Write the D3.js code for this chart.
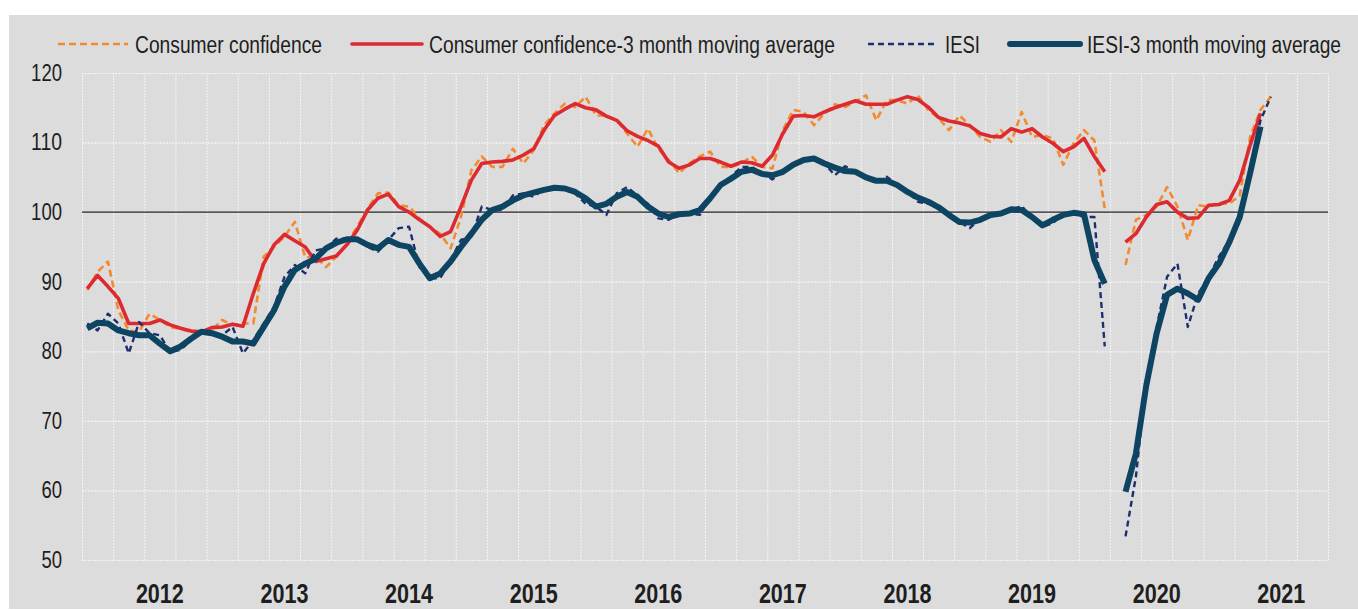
<!DOCTYPE html>
<html>
<head>
<meta charset="utf-8">
<script src="https://cdn.jsdelivr.net/npm/d3@7"></script>
<style>
  body { margin: 0; background: #fff; }
  text { font-family: "Liberation Sans Narrow", "Arial Narrow", "Liberation Sans", sans-serif; fill: #1e1e1e; }
</style>
</head>
<body>
<div id="chart"></div>
<script>
// Monthly data, Jan 2012 .. Jul 2021 (April 2020 missing)
const startMonth = "2012-01";
const years = ["2012", "2013", "2014", "2015", "2016", "2017", "2018", "2019", "2020", "2021"];
const yTicks = [50, 60, 70, 80, 90, 100, 110, 120];

const consumer = [
  88.8, 91.4, 92.9, 85.9, 83.0, 82.8, 85.4, 84.5, 83.5, 83.2, 82.8, 82.6,
  83.0, 84.5, 83.8, 84.0, 84.0, 93.6, 95.0, 96.5, 98.6, 93.5, 93.6, 92.1,
  93.6, 95.5, 97.9, 100.5, 102.7, 102.8, 101.0, 100.8, 99.1, 97.9, 96.9, 94.8,
  99.3, 106.0, 108.0, 106.5, 106.5, 109.1, 107.0, 108.9, 112.5, 114.2, 115.6, 115.1,
  116.6, 113.9, 113.9, 113.2, 111.3, 109.4, 112.0, 109.1, 107.5, 105.6, 107.0, 108.0,
  108.7, 106.5, 106.5, 107.0, 108.0, 106.5, 106.3, 111.8, 114.7, 114.4, 112.5, 114.2,
  115.5, 115.1, 115.9, 116.8, 113.2, 116.1, 116.1, 115.6, 116.8, 114.7, 113.5, 111.8,
  113.9, 112.5, 110.8, 110.1, 111.8, 110.1, 114.4, 110.8, 111.1, 110.6, 106.8, 109.9,
  111.8, 110.3, 100.5, null, 92.4, 98.9, 99.6, 100.8, 103.6, 100.8, 96.0, 101.0,
  100.8, 101.3, 101.2, 102.4, 110.8, 114.7, 116.6
];
const consumerMA = [
  89.0, 90.9, 89.3, 87.6, 84.0, 84.0, 84.0, 84.5, 83.8, 83.3, 82.9, 82.8,
  83.4, 83.5, 83.9, 83.6, 88.3, 92.6, 95.3, 96.8, 95.9, 95.0, 92.9, 93.3,
  93.7, 95.3, 97.4, 100.3, 102.0, 102.6, 100.8, 100.0, 98.9, 97.9, 96.5, 97.2,
  100.8, 104.6, 107.0, 107.2, 107.3, 107.5, 108.2, 109.1, 111.8, 113.9, 114.8, 115.6,
  115.0, 114.7, 113.8, 113.2, 111.7, 110.9, 110.3, 109.5, 107.2, 106.3, 106.8, 107.7,
  107.7, 107.2, 106.6, 107.2, 107.1, 106.6, 108.2, 111.3, 113.8, 113.9, 113.7, 114.4,
  115.0, 115.5, 116.0, 115.5, 115.5, 115.5, 116.1, 116.6, 116.2, 115.1, 113.6, 113.1,
  112.8, 112.4, 111.3, 110.9, 110.8, 112.0, 111.5, 112.0, 110.8, 109.9, 108.7, 109.4,
  110.6, 108.0, 105.8, null, 95.7, 96.9, 99.3, 101.1, 101.5, 100.0, 99.1, 99.2,
  101.0, 101.1, 101.7, 104.6, 109.6, 114.2
];
const iesi = [
  84.0, 83.0, 85.4, 84.0, 79.7, 84.2, 82.6, 82.3, 79.9, 80.2, 81.6, 82.8,
  82.8, 82.3, 83.5, 79.7, 81.6, 84.0, 86.4, 90.7, 92.4, 91.2, 94.5, 94.8,
  96.2, 96.2, 96.2, 95.0, 94.3, 96.0, 97.7, 97.9, 92.1, 90.5, 90.5, 93.1,
  96.0, 96.5, 100.8, 100.3, 100.3, 102.4, 102.7, 102.2, 103.4, 103.4, 103.2, 102.7,
  101.2, 100.8, 99.6, 102.7, 103.6, 102.4, 101.2, 99.1, 98.9, 99.8, 99.8, 99.6,
  102.2, 104.1, 105.1, 106.5, 106.5, 105.6, 104.7, 106.0, 107.0, 107.6, 107.9, 107.0,
  105.3, 106.6, 105.8, 104.8, 104.2, 105.1, 103.9, 102.9, 101.5, 101.2, 100.8, 99.3,
  98.6, 97.7, 99.1, 99.7, 100.0, 100.3, 100.9, 99.1, 97.9, 98.4, 99.8, 99.8,
  99.3, 99.3, 80.7, null, 53.4, 62.0, 75.9, 83.5, 90.7, 92.6, 83.5, 88.3,
  90.7, 93.6, 96.0, 99.1, 106.5, 113.2, 116.6
];
const iesiMA = [
  83.3, 84.1, 84.0, 83.0, 82.6, 82.3, 82.3, 81.1, 80.0, 80.7, 81.8, 82.8,
  82.6, 82.1, 81.4, 81.4, 81.1, 83.5, 85.9, 89.3, 91.7, 92.6, 93.3, 94.8,
  95.6, 96.1, 96.1, 95.3, 94.8, 96.0, 95.3, 95.0, 92.6, 90.5, 91.2, 92.9,
  95.0, 96.9, 98.9, 100.3, 100.8, 101.7, 102.4, 102.8, 103.2, 103.5, 103.4, 102.9,
  102.0, 100.8, 101.2, 102.2, 102.9, 102.2, 100.8, 99.8, 99.3, 99.7, 99.8, 100.3,
  102.0, 103.9, 104.8, 105.8, 106.1, 105.5, 105.3, 105.8, 106.8, 107.5, 107.7, 107.0,
  106.4, 105.9, 105.8, 105.0, 104.5, 104.5, 103.9, 102.9, 102.1, 101.5, 100.7, 99.6,
  98.6, 98.5, 98.9, 99.6, 99.8, 100.4, 100.3, 99.3, 98.1, 98.9, 99.6, 99.9,
  99.7, 93.1, 89.7, null, 59.8, 65.3, 75.1, 82.6, 88.1, 89.0, 88.3, 87.4,
  90.5, 92.6, 95.7, 99.3, 105.6, 112.3
];

const W = 1358, H = 610;
const margin = {top: 73, right: 30, bottom: 50, left: 82};
const nMonths = years.length * 12;

const svg = d3.select("#chart").append("svg")
    .attr("width", W)
    .attr("height", H);

// grey panel
svg.append("rect")
    .attr("x", 9).attr("y", 15)
    .attr("width", W - 9).attr("height", 594)
    .attr("fill", "#dcdcdc");

const x = d3.scaleLinear().domain([0, nMonths]).range([margin.left, W - margin.right]);
const y = d3.scaleLinear().domain([50, 120]).range([H - margin.bottom, margin.top]);

// horizontal grid + y labels (narrow font squeezed with textLength)
svg.append("g")
    .attr("transform", `translate(${margin.left},0)`)
    .call(d3.axisLeft(y).tickValues(yTicks).tickSize(-(x.range()[1] - x.range()[0])).tickPadding(20))
    .call(g => g.select(".domain").remove())
    .call(g => g.selectAll(".tick line")
        .attr("stroke", "#f4f4f4").attr("stroke-width", 1.2).attr("stroke-dasharray", "2,1"))
    .call(g => g.selectAll(".tick text")
        .attr("font-size", 23).attr("fill", "#1e1e1e")
        .attr("textLength", d => String(d).length * 10.3)
        .attr("lengthAdjust", "spacingAndGlyphs"));

// vertical grid, every quarter
svg.append("g")
    .attr("transform", `translate(0,${y(50)})`)
    .call(d3.axisBottom(x).tickValues(d3.range(0, nMonths + 1, 3)).tickSize(-(y(50) - y(120))).tickFormat(""))
    .call(g => g.select(".domain").remove())
    .call(g => g.selectAll(".tick line")
        .attr("stroke", "#f4f4f4").attr("stroke-width", 1).attr("stroke-dasharray", "2,1"));

// year labels
svg.append("g").selectAll("text")
    .data(years)
    .join("text")
    .attr("x", (d, i) => x(i * 12 + 7.5))
    .attr("y", 603)
    .attr("text-anchor", "middle")
    .attr("font-size", 28)
    .attr("font-weight", "bold")
    .attr("fill", "#111")
    .attr("textLength", 48)
    .attr("lengthAdjust", "spacingAndGlyphs")
    .text(d => d);

// reference line at 100
svg.append("line")
    .attr("x1", x(0)).attr("x2", x(nMonths))
    .attr("y1", y(100)).attr("y2", y(100))
    .attr("stroke", "#222").attr("stroke-width", 1.3);

const series = [
  {name: "Consumer confidence", values: consumer, color: "#f28a30", width: 2.6, dash: "7,4", textW: 187},
  {name: "Consumer confidence-3 month moving average", values: consumerMA, color: "#dc2a30", width: 3.6, dash: null, textW: 406},
  {name: "IESI", values: iesi, color: "#1c2f6e", width: 2.4, dash: "6,4", textW: 35},
  {name: "IESI-3 month moving average", values: iesiMA, color: "#0c4462", width: 6, dash: null, textW: 254}
];

const line = d3.line()
    .defined(d => d != null)
    .x((d, i) => x(i + 0.5))
    .y(d => y(d));

series.forEach(s => {
  svg.append("path")
      .datum(s.values)
      .attr("fill", "none")
      .attr("stroke", s.color)
      .attr("stroke-width", s.width)
      .attr("stroke-linejoin", "round")
      .attr("stroke-dasharray", s.dash)
      .attr("d", line);
});

// legend
const legendX = [58, 352, 868, 1010];
const legend = svg.append("g");
series.forEach((s, i) => {
  const g = legend.append("g").attr("transform", `translate(${legendX[i]},44)`);
  g.append("line")
      .attr("x1", 0).attr("x2", 70)
      .attr("stroke", s.color)
      .attr("stroke-width", s.width)
      .attr("stroke-linecap", s.dash ? "butt" : "round")
      .attr("stroke-dasharray", s.dash);
  g.append("text")
      .attr("x", 77).attr("y", 8.5)
      .attr("font-size", 23)
      .attr("textLength", s.textW)
      .attr("lengthAdjust", "spacingAndGlyphs")
      .text(s.name);
});
</script>
</body>
</html>
